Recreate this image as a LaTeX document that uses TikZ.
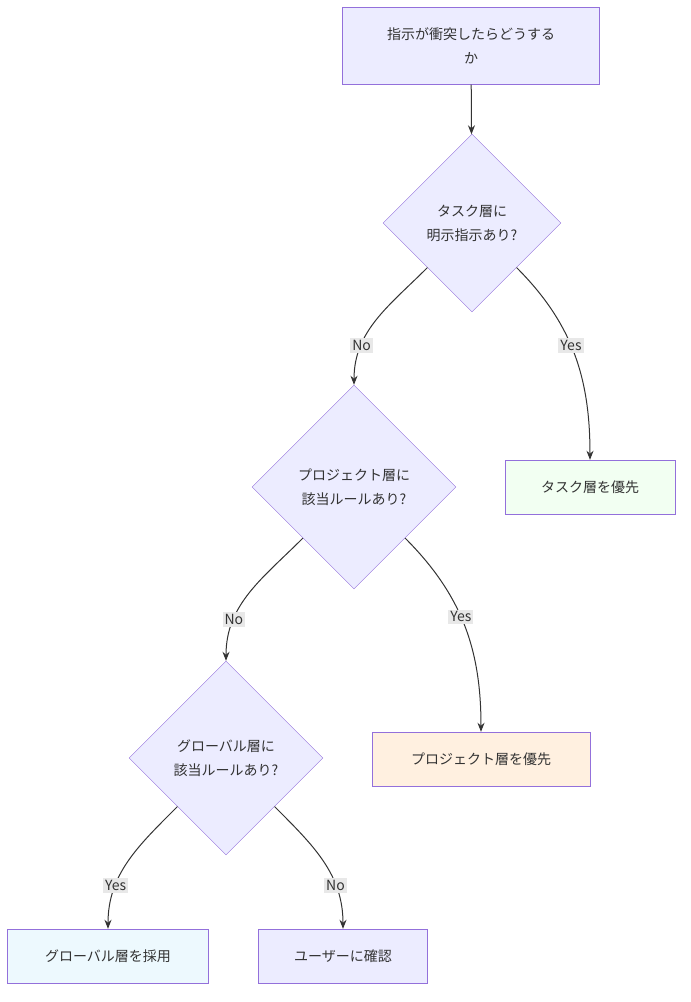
\documentclass[tikz,border=0pt]{standalone}
\usepackage{fontspec}
\setmainfont{Noto Sans CJK JP}
\usetikzlibrary{shapes.geometric, arrows.meta}
\definecolor{nodefill}{HTML}{ECECFF}
\definecolor{nodeline}{HTML}{9370DB}
\definecolor{edgecol}{HTML}{333333}
\definecolor{labelbg}{HTML}{E8E8E8}
\begin{document}
\begin{tikzpicture}[
		x=1pt, y=-1pt,
		font=\fontsize{14pt}{24pt}\selectfont,
		% Styles
		box/.style={rectangle, draw=nodeline, fill=nodefill, text=edgecol, align=center},
		decision/.style={diamond, draw=nodeline, fill=nodefill, text=edgecol, align=center, inner sep=0pt},
		arrow/.style={-{Stealth[length=9pt,width=7pt]}, draw=edgecol, line width=1pt},
		lbl/.style={fill=labelbg, text=edgecol, inner sep=2pt}
	]
	\useasboundingbox (0,0) rectangle (691,1002);

	% --- Nodes ---
	\node[box, minimum width=257pt, minimum height=77pt] (start) at (471,46) {指示が衝突したらどうする\\か};
	\node[decision, minimum width=178pt, minimum height=178pt] (task_q) at (472,223) {タスク層に\\明示指示あり?};
	\node[decision, minimum width=204pt, minimum height=204pt] (project_q) at (354,487) {プロジェクト層に\\該当ルールあり?};
	\node[decision, minimum width=194pt, minimum height=194pt] (global_q) at (226,758) {グローバル層に\\該当ルールあり?};
	\node[box, fill=green!5!white, minimum width=170pt, minimum height=54pt] (task_win) at (590,487) {タスク層を優先};
	\node[box, fill=orange!12!white, minimum width=218pt, minimum height=54pt] (project_win) at (481,759) {プロジェクト層を優先};
	\node[box, fill=cyan!7!white, minimum width=201pt, minimum height=54pt] (global_win) at (108,956) {グローバル層を採用};
	\node[box, minimum width=169pt, minimum height=54pt] (ask_user) at (343,956) {ユーザーに確認};

	% --- Arrows ---
	\draw[arrow] (start) -- (task_q);
	\draw[arrow] (task_q.south west) to[out=225, in=90] node[lbl, pos=0.72] {No} (project_q.north);
	\draw[arrow] (task_q.south east) to[out=-45, in=90] node[lbl, pos=0.45] {Yes} (task_win.north);
	\draw[arrow] (project_q.south west) to[out=225, in=90] node[lbl, pos=0.72] {No} (global_q.north);
	\draw[arrow] (project_q.south east) to[out=-45, in=90] node[lbl, pos=0.45] {Yes} (project_win.north);
	\draw[arrow] (global_q.south west) to[out=225, in=90] node[lbl, pos=0.7] {Yes} (global_win.north);
	\draw[arrow] (global_q.south east) to[out=-45, in=90] node[lbl, pos=0.7] {No} (ask_user.north);

\end{tikzpicture}
\end{document}
